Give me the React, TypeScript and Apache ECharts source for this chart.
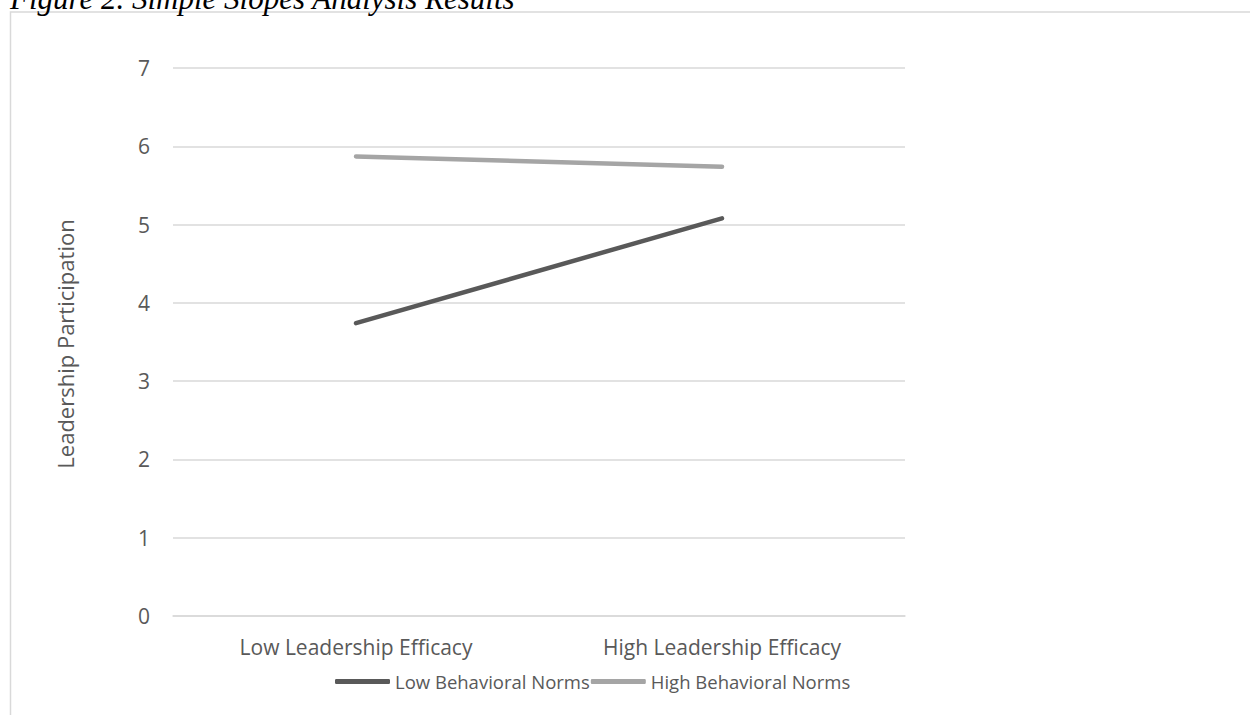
import React, { useEffect, useRef } from "react";
import * as echarts from "echarts";

const categories = ["Low Leadership Efficacy", "High Leadership Efficacy"];
const lowNorms = [3.74, 5.08];
const highNorms = [5.87, 5.74];
const seriesNames = ["Low Behavioral Norms", "High Behavioral Norms"];
const yTicks = [0, 7, 1];
const titleText = "Figure 2. Simple Slopes Analysis Results";
const yAxisTitle = "Leadership Participation";

const FONT = "'Open Sans', sans-serif";
const TEXT = "#595959";

export default function App() {
  const ref = useRef<HTMLDivElement>(null);
  useEffect(() => {
    document.body.style.margin = "0";
    const chart = echarts.init(ref.current!, null, { renderer: "svg" });
    chart.setOption({
      animation: false,
      backgroundColor: "#ffffff",
      textStyle: { fontFamily: FONT },
      grid: { left: 173, right: 345, top: 68, bottom: 99, containLabel: false },
      xAxis: {
        type: "category",
        data: categories,
        boundaryGap: true,
        axisLine: { show: true, lineStyle: { color: "#d9d9d9", width: 1.5 } },
        axisTick: { show: false },
        axisLabel: { color: TEXT, fontSize: 21, margin: 20, fontFamily: FONT },
      },
      yAxis: {
        type: "value",
        min: yTicks[0],
        max: yTicks[1],
        interval: yTicks[2],
        axisLine: { show: false },
        axisTick: { show: false },
        axisLabel: { color: TEXT, fontSize: 21, margin: 23, fontFamily: FONT },
        splitLine: { lineStyle: { color: "#d9d9d9", width: 1.5 } },
      },
      legend: {
        data: seriesNames,
        left: 335,
        top: 672,
        padding: 0,
        icon: "roundRect",
        symbolKeepAspect: false,
        itemWidth: 55,
        itemHeight: 5,
        itemGap: 1,
        textStyle: { color: TEXT, fontSize: 18.5, fontFamily: FONT },
      },
      series: [
        {
          name: seriesNames[0],
          type: "line",
          data: lowNorms,
          symbol: "none",
          lineStyle: { color: "#595959", width: 4.5, cap: "round" },
          itemStyle: { color: "#595959" },
        },
        {
          name: seriesNames[1],
          type: "line",
          data: highNorms,
          symbol: "none",
          lineStyle: { color: "#a5a5a5", width: 4.5, cap: "round" },
          itemStyle: { color: "#a5a5a5" },
        },
      ],
      graphic: [
        {
          type: "rect",
          shape: { x: 10.5, y: 12, width: 1400, height: 900 },
          style: { fill: "none", stroke: "#d9d9d9", lineWidth: 1.5 },
          silent: true,
        },
        {
          type: "text",
          x: 10,
          y: 14,
          style: {
            text: titleText,
            font: "italic 31px 'Liberation Serif', serif",
            fill: "#000000",
            verticalAlign: "bottom",
            align: "left",
          },
        },
        {
          type: "text",
          x: 65,
          y: 344,
          rotation: Math.PI / 2,
          style: {
            text: yAxisTitle,
            fontFamily: FONT,
            fontSize: 22,
            fill: TEXT,
            align: "center",
            verticalAlign: "middle",
          },
        },
      ],
    });
    return () => chart.dispose();
  }, []);
  return <div ref={ref} style={{ width: 1250, height: 715 }} />;
}
